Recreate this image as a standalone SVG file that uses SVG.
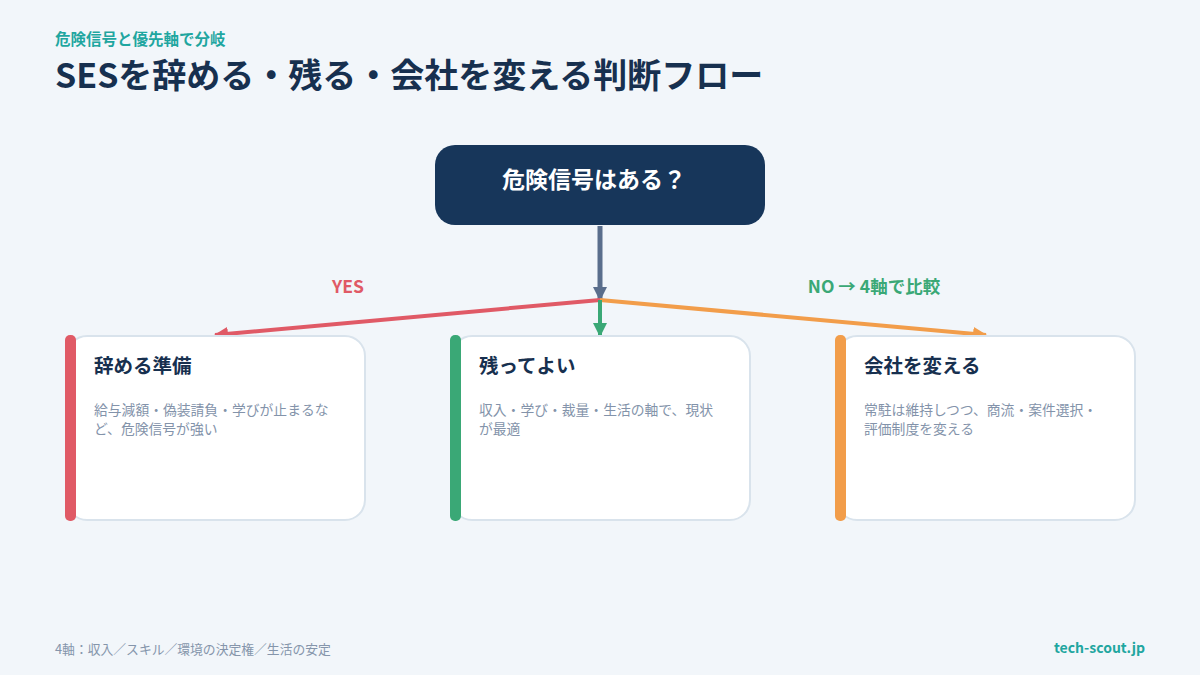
<svg xmlns="http://www.w3.org/2000/svg" width="1200" height="675" viewBox="0 0 1200 675">
<style>
text{font-family:"Noto Sans CJK JP","Noto Sans",sans-serif}
.kicker{font-size:15.5px;font-weight:700;fill:#1fa6a0}
.title{font-size:34px;font-weight:700;fill:#17304f}
.qtext{font-size:23px;font-weight:700;fill:#ffffff}
.card{fill:#ffffff;stroke:#d9e3ec;stroke-width:2}
.ctitle{font-size:19.5px;font-weight:700;fill:#17304f}
.cdesc{font-size:13.8px;fill:#8393aa}
.lbl{font-size:17.5px;font-weight:700}
.foot{font-size:12.8px;fill:#8595ab}
.brand{font-size:14px;font-weight:700;fill:#1fa6a0}
</style>
<defs>
<marker id="ah-slate" markerUnits="userSpaceOnUse" markerWidth="14" markerHeight="14" viewBox="0 0 14 14" refX="13" refY="7" orient="auto"><path d="M0,0 L14,7 L0,14 z" fill="#5a6e8c"/></marker>
<marker id="ah-red" markerUnits="userSpaceOnUse" markerWidth="14" markerHeight="14" viewBox="0 0 14 14" refX="13" refY="7" orient="auto"><path d="M0,0 L14,7 L0,14 z" fill="#e05a66"/></marker>
<marker id="ah-green" markerUnits="userSpaceOnUse" markerWidth="14" markerHeight="14" viewBox="0 0 14 14" refX="13" refY="7" orient="auto"><path d="M0,0 L14,7 L0,14 z" fill="#3aa876"/></marker>
<marker id="ah-orange" markerUnits="userSpaceOnUse" markerWidth="14" markerHeight="14" viewBox="0 0 14 14" refX="13" refY="7" orient="auto"><path d="M0,0 L14,7 L0,14 z" fill="#f29d4a"/></marker>
</defs>
<rect x="0" y="0" width="1200" height="675" fill="#f2f6fa"/>
<g id="header">
<text class="kicker" x="55" y="45">危険信号と優先軸で分岐</text>
<text class="title" x="55" y="88">SESを辞める・残る・会社を変える判断フロー</text>
</g>
<g id="connectors">
<line x1="600" y1="226" x2="600" y2="300" stroke="#5a6e8c" stroke-width="5" marker-end="url(#ah-slate)"/>
<line x1="600" y1="300" x2="215" y2="335" stroke="#e05a66" stroke-width="4" marker-end="url(#ah-red)"/>
<line x1="600" y1="300" x2="986" y2="335" stroke="#f29d4a" stroke-width="4" marker-end="url(#ah-orange)"/>
<line x1="600" y1="300" x2="600" y2="336" stroke="#3aa876" stroke-width="4" marker-end="url(#ah-green)"/>
<text class="lbl" x="348" y="293" text-anchor="middle" fill="#e05a66">YES</text>
<text class="lbl" x="874" y="293" text-anchor="middle" fill="#3aa876">NO → 4軸で比較</text>
</g>
<g id="node-question">
<rect x="435" y="145" width="330" height="80" rx="20" fill="#17365a"/>
<text class="qtext" x="594" y="188" text-anchor="middle">危険信号はある？</text>
</g>
<g id="node-quit">
<rect class="card" x="67" y="336" width="298" height="184" rx="20"/>
<rect x="65" y="335" width="11" height="186" rx="5" fill="#e05a66"/>
<text class="ctitle" x="94" y="373">辞める準備</text>
<text class="cdesc" x="94" y="415">給与減額・偽装請負・学びが止まるな</text>
<text class="cdesc" x="94" y="434">ど、危険信号が強い</text>
</g>
<g id="node-stay">
<rect class="card" x="452" y="336" width="298" height="184" rx="20"/>
<rect x="450" y="335" width="11" height="186" rx="5" fill="#3aa876"/>
<text class="ctitle" x="479" y="373">残ってよい</text>
<text class="cdesc" x="479" y="415">収入・学び・裁量・生活の軸で、現状</text>
<text class="cdesc" x="479" y="434">が最適</text>
</g>
<g id="node-change">
<rect class="card" x="837" y="336" width="298" height="184" rx="20"/>
<rect x="835" y="335" width="11" height="186" rx="5" fill="#f29d4a"/>
<text class="ctitle" x="864" y="373">会社を変える</text>
<text class="cdesc" x="864" y="415">常駐は維持しつつ、商流・案件選択・</text>
<text class="cdesc" x="864" y="434">評価制度を変える</text>
</g>
<g id="footer">
<text class="foot" x="55" y="654">4軸：収入／スキル／環境の決定権／生活の安定</text>
<text class="brand" x="1145" y="653" text-anchor="end">tech-scout.jp</text>
</g>
</svg>
